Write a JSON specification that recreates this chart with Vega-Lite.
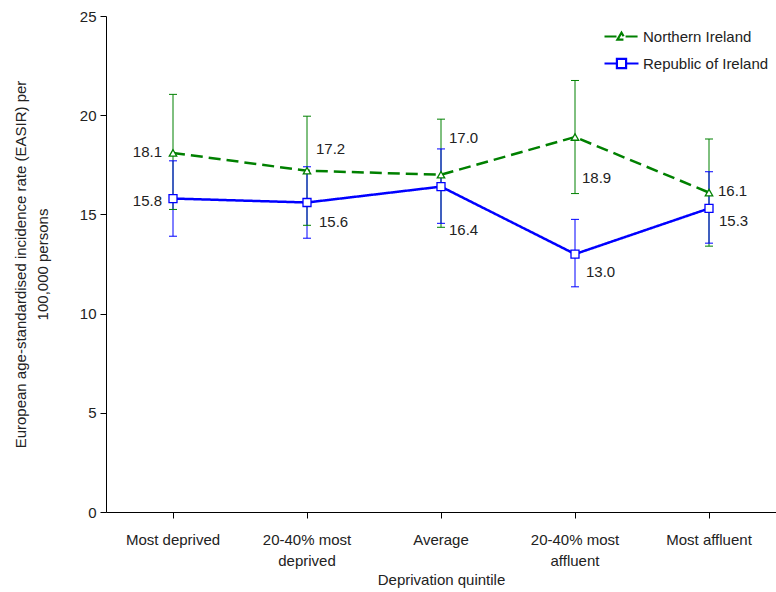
{
  "$schema": "https://vega.github.io/schema/vega-lite/v6.json",
  "width": 670,
  "height": 496,
  "autosize": "none",
  "padding": {"left": 106, "top": 16, "right": 0, "bottom": 80},
  "background": "white",
  "config": {
    "view": {"stroke": null},
    "font": "Liberation Sans",
    "axis": {"labelFont": "Liberation Sans", "titleFont": "Liberation Sans", "labelColor": "#222222", "titleColor": "#222222", "domainColor": "#000000", "tickColor": "#000000", "grid": false, "titleFontWeight": "normal"},
    "legend": {"labelFont": "Liberation Sans", "labelColor": "#222222"}
  },
  "data": {
    "values": [
      {"quintile": "Most deprived", "series": "Northern Ireland", "rate": 18.1, "lo": 15.25, "hi": 21.05},
      {"quintile": "20-40% most deprived", "series": "Northern Ireland", "rate": 17.2, "lo": 14.45, "hi": 19.95},
      {"quintile": "Average", "series": "Northern Ireland", "rate": 17.0, "lo": 14.35, "hi": 19.8},
      {"quintile": "20-40% most affluent", "series": "Northern Ireland", "rate": 18.9, "lo": 16.05, "hi": 21.75},
      {"quintile": "Most affluent", "series": "Northern Ireland", "rate": 16.1, "lo": 13.4, "hi": 18.8},
      {"quintile": "Most deprived", "series": "Republic of Ireland", "rate": 15.8, "lo": 13.9, "hi": 17.7},
      {"quintile": "20-40% most deprived", "series": "Republic of Ireland", "rate": 15.6, "lo": 13.8, "hi": 17.4},
      {"quintile": "Average", "series": "Republic of Ireland", "rate": 16.4, "lo": 14.55, "hi": 18.3},
      {"quintile": "20-40% most affluent", "series": "Republic of Ireland", "rate": 13.0, "lo": 11.35, "hi": 14.75},
      {"quintile": "Most affluent", "series": "Republic of Ireland", "rate": 15.3, "lo": 13.55, "hi": 17.15}
    ]
  },
  "encoding": {
    "x": {
      "field": "quintile", "type": "nominal",
      "sort": ["Most deprived", "20-40% most deprived", "Average", "20-40% most affluent", "Most affluent"],
      "scale": {"paddingInner": 0, "paddingOuter": 0},
      "axis": {
        "title": "Deprivation quintile", "titleFontSize": 15, "titlePadding": 4,
        "labelAngle": 0, "labelFontSize": 15, "labelPadding": 14, "labelLineHeight": 21, "tickSize": 6,
        "labelExpr": "indexof(datum.value, '20-40%') == 0 ? ['20-40% most', slice(datum.value, 12)] : datum.value"
      }
    },
    "color": {
      "field": "series", "type": "nominal",
      "scale": {"domain": ["Northern Ireland", "Republic of Ireland"], "range": ["#008000", "#0000ff"]},
      "legend": {"orient": "none", "legendX": 497, "legendY": 2, "title": null, "padding": 0, "symbolSize": 1156, "symbolStrokeWidth": 2.2, "symbolOpacity": 1, "symbolFillColor": "white", "labelFontSize": 15, "labelOffset": 3, "rowPadding": -2,
        "encode": {"symbols": {"update": {"fill": {"value": "white"}}}}}
    }
  },
  "layer": [
    {
      "mark": {"type": "rule", "strokeWidth": 1},
      "encoding": {
        "y": {"field": "lo", "type": "quantitative"},
        "y2": {"field": "hi"}
      }
    },
    {
      "mark": {"type": "point", "shape": "stroke", "filled": false, "size": 64, "strokeWidth": 1, "opacity": 1},
      "encoding": {
        "y": {"field": "lo", "type": "quantitative"}
      }
    },
    {
      "mark": {"type": "point", "shape": "stroke", "filled": false, "size": 64, "strokeWidth": 1, "opacity": 1},
      "encoding": {
        "y": {"field": "hi", "type": "quantitative"}
      }
    },
    {
      "mark": {"type": "line", "strokeWidth": 2.5},
      "encoding": {
        "y": {
          "field": "rate", "type": "quantitative",
          "scale": {"domain": [0, 25], "nice": false},
          "axis": {
            "values": [0, 5, 10, 15, 20, 25], "labelFontSize": 15, "labelPadding": 4, "tickSize": 6,
            "title": ["European age-standardised incidence rate (EASIR) per", "100,000 persons"],
            "titleFontSize": 15, "titleLineHeight": 22, "titlePadding": 29
          }
        },
        "strokeDash": {
          "field": "series", "type": "nominal",
          "scale": {"domain": ["Northern Ireland", "Republic of Ireland"], "range": [[12, 6], [1, 0]]},
          "legend": null
        }
      }
    },
    {
      "mark": {"type": "point", "filled": false, "opacity": 0},
      "encoding": {
        "y": {"field": "rate", "type": "quantitative"},
        "shape": {
          "field": "series", "type": "nominal",
          "scale": {"domain": ["Northern Ireland", "Republic of Ireland"], "range": ["M-1,0H-0.24M0.24,0H1M-0.24,0.18L0,-0.22L0.24,0.18Z", "M-1,0H-0.27M0.27,0H1M-0.27,-0.27H0.27V0.27H-0.27Z"]}
        }
      }
    },
    {
      "transform": [{"filter": "datum.series == 'Northern Ireland'"}],
      "mark": {"type": "point", "shape": "triangle-up", "filled": false, "fill": "white", "fillOpacity": 1, "strokeWidth": 1.3, "opacity": 1, "size": 55},
      "encoding": {
        "y": {"field": "rate", "type": "quantitative"}
      }
    },
    {
      "transform": [{"filter": "datum.series == 'Republic of Ireland'"}],
      "mark": {"type": "point", "shape": "square", "filled": false, "fill": "white", "fillOpacity": 1, "strokeWidth": 1.3, "opacity": 1, "size": 64},
      "encoding": {
        "y": {"field": "rate", "type": "quantitative"}
      }
    },
    {
      "transform": [{"filter": "datum.series == 'Northern Ireland' && datum.quintile == 'Most deprived'"}],
      "mark": {"type": "text", "align": "right", "baseline": "middle", "dx": -11, "dy": -1, "fontSize": 15},
      "encoding": {"y": {"field": "rate", "type": "quantitative"}, "text": {"field": "rate", "format": ".1f"}, "color": {"value": "#222222"}}
    },
    {
      "transform": [{"filter": "datum.series == 'Republic of Ireland' && datum.quintile == 'Most deprived'"}],
      "mark": {"type": "text", "align": "right", "baseline": "middle", "dx": -11, "dy": 2, "fontSize": 15},
      "encoding": {"y": {"field": "rate", "type": "quantitative"}, "text": {"field": "rate", "format": ".1f"}, "color": {"value": "#222222"}}
    },
    {
      "transform": [{"filter": "datum.series == 'Northern Ireland' && datum.quintile == '20-40% most deprived'"}],
      "mark": {"type": "text", "align": "left", "baseline": "middle", "dx": 9, "dy": -22, "fontSize": 15},
      "encoding": {"y": {"field": "rate", "type": "quantitative"}, "text": {"field": "rate", "format": ".1f"}, "color": {"value": "#222222"}}
    },
    {
      "transform": [{"filter": "datum.series == 'Republic of Ireland' && datum.quintile == '20-40% most deprived'"}],
      "mark": {"type": "text", "align": "left", "baseline": "middle", "dx": 12, "dy": 20, "fontSize": 15},
      "encoding": {"y": {"field": "rate", "type": "quantitative"}, "text": {"field": "rate", "format": ".1f"}, "color": {"value": "#222222"}}
    },
    {
      "transform": [{"filter": "datum.series == 'Northern Ireland' && datum.quintile == 'Average'"}],
      "mark": {"type": "text", "align": "left", "baseline": "middle", "dx": 8, "dy": -37, "fontSize": 15},
      "encoding": {"y": {"field": "rate", "type": "quantitative"}, "text": {"field": "rate", "format": ".1f"}, "color": {"value": "#222222"}}
    },
    {
      "transform": [{"filter": "datum.series == 'Republic of Ireland' && datum.quintile == 'Average'"}],
      "mark": {"type": "text", "align": "left", "baseline": "middle", "dx": 8, "dy": 43, "fontSize": 15},
      "encoding": {"y": {"field": "rate", "type": "quantitative"}, "text": {"field": "rate", "format": ".1f"}, "color": {"value": "#222222"}}
    },
    {
      "transform": [{"filter": "datum.series == 'Northern Ireland' && datum.quintile == '20-40% most affluent'"}],
      "mark": {"type": "text", "align": "left", "baseline": "middle", "dx": 7, "dy": 41, "fontSize": 15},
      "encoding": {"y": {"field": "rate", "type": "quantitative"}, "text": {"field": "rate", "format": ".1f"}, "color": {"value": "#222222"}}
    },
    {
      "transform": [{"filter": "datum.series == 'Republic of Ireland' && datum.quintile == '20-40% most affluent'"}],
      "mark": {"type": "text", "align": "left", "baseline": "middle", "dx": 11, "dy": 18, "fontSize": 15},
      "encoding": {"y": {"field": "rate", "type": "quantitative"}, "text": {"field": "rate", "format": ".1f"}, "color": {"value": "#222222"}}
    },
    {
      "transform": [{"filter": "datum.series == 'Northern Ireland' && datum.quintile == 'Most affluent'"}],
      "mark": {"type": "text", "align": "left", "baseline": "middle", "dx": 9, "dy": -2, "fontSize": 15},
      "encoding": {"y": {"field": "rate", "type": "quantitative"}, "text": {"field": "rate", "format": ".1f"}, "color": {"value": "#222222"}}
    },
    {
      "transform": [{"filter": "datum.series == 'Republic of Ireland' && datum.quintile == 'Most affluent'"}],
      "mark": {"type": "text", "align": "left", "baseline": "middle", "dx": 10, "dy": 13, "fontSize": 15},
      "encoding": {"y": {"field": "rate", "type": "quantitative"}, "text": {"field": "rate", "format": ".1f"}, "color": {"value": "#222222"}}
    }
  ]
}
